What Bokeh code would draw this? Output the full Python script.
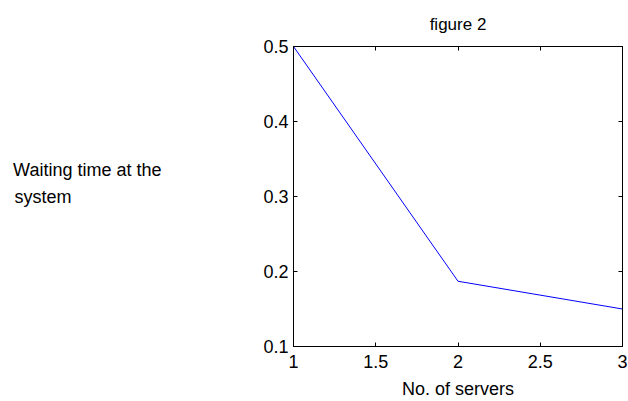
from bokeh.plotting import figure
from bokeh.models import Range1d, LinearAxis, FixedTicker
from bokeh.embed import file_html
from bokeh.resources import INLINE

servers = [1, 2, 3]
waiting = [0.5, 0.187, 0.15]
x_ticks = [1, 1.5, 2, 2.5, 3]
y_ticks = [0.1, 0.2, 0.3, 0.4, 0.5]
title_text = "figure 2"
xlabel_text = "No. of servers"
ylabel_lines = ["Waiting time at the", "system"]

FONT = "Liberation Sans"
FS = "18px"
TFS = "18px"

# left-align the two lines of the horizontal y label (Bokeh right-aligns them)
NBSP = "\u00a0"
ylabel_text = ylabel_lines[0] + "\n" + ylabel_lines[1] + NBSP * 18 + "\n" + NBSP

p = figure(width=628, height=401, output_backend="svg", toolbar_location=None,
           x_range=Range1d(1, 3), y_range=Range1d(0.1, 0.5),
           min_border_left=293, min_border_right=6, min_border_top=42, min_border_bottom=54)
p.background_fill_color = "white"
p.border_fill_color = "white"
p.outline_line_color = "black"
p.outline_line_width = 1
p.xgrid.visible = False
p.ygrid.visible = False

p.title.text = title_text
p.title.align = "center"
p.title.text_font = FONT
p.title.text_font_size = "17px"
p.title.text_font_style = "normal"
p.title.text_color = "black"
p.title.text_line_height = 1.0
p.title.standoff = 25

p.line(servers, waiting, line_color="#0000ff", line_width=1)

for ax in p.xaxis:
    ax.ticker = FixedTicker(ticks=x_ticks)
    ax.axis_label = xlabel_text
for ax in p.yaxis:
    ax.ticker = FixedTicker(ticks=y_ticks)
    ax.axis_label = ylabel_text
    ax.axis_label_orientation = "horizontal"
    ax.axis_label_text_line_height = 1.35

def style(ax, labels=True):
    ax.major_tick_in = 4
    ax.major_tick_out = 0
    ax.minor_tick_line_color = None
    ax.axis_line_color = "black"
    ax.major_tick_line_color = "black"
    ax.major_label_text_font = FONT
    ax.major_label_text_font_size = TFS
    ax.major_label_text_color = "black"
    ax.axis_label_text_font = FONT
    ax.axis_label_text_font_size = FS
    ax.axis_label_text_font_style = "normal"
    ax.axis_label_text_color = "black"
    if not labels:
        ax.major_label_text_color = None

for ax in p.xaxis + p.yaxis:
    style(ax)
p.xaxis.major_label_standoff = 8
p.xaxis.axis_label_standoff = 8
p.yaxis.major_label_standoff = 5
p.yaxis.axis_label_standoff = 99

right = LinearAxis(ticker=FixedTicker(ticks=y_ticks))
style(right, labels=False)
right.major_label_standoff = 0
p.add_layout(right, "right")
top = LinearAxis(ticker=FixedTicker(ticks=x_ticks))
style(top, labels=False)
top.major_label_standoff = 0
p.add_layout(top, "above")

open("out.html", "w").write(file_html(p, INLINE))
